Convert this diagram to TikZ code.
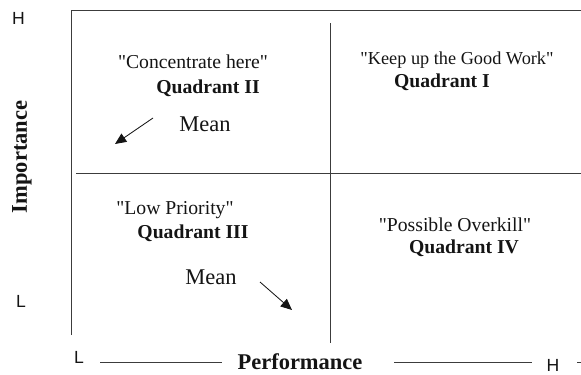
\documentclass[tikz,border=0pt]{standalone}
\usepackage{fontspec}
\setmainfont{Liberation Serif}
\newfontfamily\axfont{Liberation Sans}
\usetikzlibrary{arrows.meta, positioning}
\definecolor{inkc}{RGB}{20,20,20}
\definecolor{rulec}{RGB}{60,60,60}
\newcommand{\qq}[1]{\textquotedbl#1\textquotedbl}
\tikzset{
  quote/.style={font=\fontsize{14}{16}\selectfont, text=inkc, inner sep=0pt},
  quad/.style={font=\fontsize{14}{16}\selectfont\bfseries, text=inkc, inner sep=0pt},
  meanlbl/.style={font=\fontsize{16}{18}\selectfont, text=inkc, inner sep=0pt},
  axtitle/.style={font=\fontsize{16}{18}\selectfont\bfseries, text=inkc, inner sep=0pt},
  tick/.style={font=\axfont\fontsize{12.5}{14}\selectfont, text=inkc, inner sep=0pt},
  rule/.style={draw=rulec, line width=0.6pt},
  arr/.style={-{Triangle[length=8pt, width=7pt]}, draw=inkc, line width=0.6pt},
}
\begin{document}
\begin{tikzpicture}[x=0.025cm, y=-0.025cm]
  \useasboundingbox (0,0) rectangle (581,375);

  % frame and quadrant lines
  \coordinate (tl) at (71,10);
  \coordinate (tr) at (581,10);
  \coordinate (bl) at (71,335);
  \coordinate (mtop) at (330,23);
  \coordinate (mbot) at (330,343);
  \coordinate (hl) at (76,173);
  \coordinate (hr) at (581,173);
  \draw[rule] (bl) -- (tl) -- (tr);
  \draw[rule] (mtop) -- (mbot);
  \draw[rule] (hl) -- (hr);

  % vertical axis
  \node[tick] (yhigh) at (18.5,18.5) {H};
  \node[tick] (ylow) at (21,301) {L};
  \node[axtitle, rotate=90] (ytitle) at (22,157) {Importance};

  % horizontal axis
  \node[tick] (xlow) at (79,357) {L};
  \node[axtitle] (xtitle) at (300,362) {Performance};
  \node[tick] (xhigh) at (553,365) {H};
  \coordinate (xa) at (100,362);
  \coordinate (xb) at (222,362);
  \coordinate (xc) at (394,362);
  \coordinate (xd) at (532,362);
  \coordinate (xe) at (577,362);
  \coordinate (xf) at (581,362);
  \draw[rule] (xa) -- (xb);
  \draw[rule] (xc) -- (xd);
  \draw[rule] (xe) -- (xf);

  % quadrants
  \node[quote] (q2t) at (193,62) {\qq{Concentrate here}};
  \node[quad] (q2) at (208,88) {Quadrant II};
  \node[meanlbl] (mean2) at (205,124) {Mean};
  \node[quote, font=\fontsize{13}{15}\selectfont] (q1t) at (457,60) {\qq{Keep up the Good Work}};
  \node[quad] (q1) at (442,82) {Quadrant I};
  \node[quote] (q3t) at (175,210) {\qq{Low Priority}};
  \node[quad] (q3) at (193,233) {Quadrant III};
  \node[meanlbl] (mean3) at (211,277) {Mean};
  \node[quote] (q4t) at (455,225) {\qq{Possible Overkill}};
  \node[quad] (q4) at (464,248) {Quadrant IV};

  % mean arrows
  \coordinate (a2s) at (153,118);
  \coordinate (a2e) at (115,144);
  \coordinate (a3s) at (260,282);
  \coordinate (a3e) at (292,310);
  \draw[arr] (a2s) -- (a2e);
  \draw[arr] (a3s) -- (a3e);

\end{tikzpicture}
\end{document}
